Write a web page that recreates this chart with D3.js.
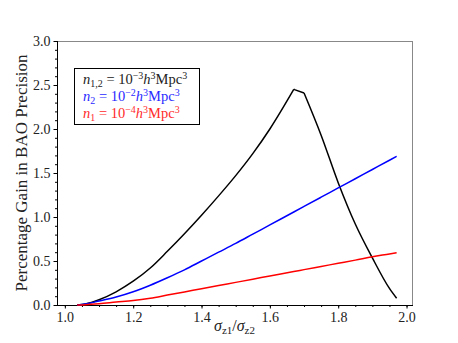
<!DOCTYPE html>
<html lang="en">
<head>
<meta charset="utf-8">
<title>BAO precision gain</title>
<script src="https://cdn.jsdelivr.net/npm/d3@7"></script>
<style>
body { margin: 0; background: white; }
svg text { font-family: "Liberation Serif", "Times New Roman", "DejaVu Serif", serif; }
</style>
</head>
<body>
<script>
// sigma_z1 / sigma_z2 sample points (shared by the three curves)
var ratio   = [1.036, 1.06, 1.10, 1.15, 1.20, 1.25, 1.30, 1.35, 1.40, 1.45, 1.50,
               1.55, 1.60, 1.67, 1.70, 1.75, 1.80, 1.85, 1.90, 1.95, 1.971];
// percentage gain in BAO precision
var gainN12 = [0.0, 0.012, 0.06, 0.15, 0.27, 0.42, 0.61, 0.81, 1.02, 1.24, 1.47,
               1.72, 2.0, 2.45, 2.41, 1.93, 1.39, 0.92, 0.535, 0.188, 0.076];
var gainN2  = [0.0, 0.012, 0.045, 0.09, 0.15, 0.225, 0.31, 0.40, 0.50, 0.60, 0.70,
               0.805, 0.91, 1.057, 1.12, 1.225, 1.33, 1.435, 1.54, 1.645, 1.69];
var gainN1  = [0.0, 0.004, 0.015, 0.033, 0.05, 0.077, 0.113, 0.149, 0.185, 0.221, 0.257,
               0.293, 0.33, 0.38, 0.402, 0.438, 0.474, 0.51, 0.548, 0.58, 0.594];
var peakIndex = 13; // black curve has a kink between 1.67 and 1.70
var xTicks = [1.0, 1.2, 1.4, 1.6, 1.8, 2.0];
var yTicks = [0.0, 0.5, 1.0, 1.5, 2.0, 2.5, 3.0];

var w = 458, h = 343;
var pad = { left: 57, right: 46, top: 41, bottom: 38 };
var serif = "Liberation Serif, Times New Roman, DejaVu Serif, serif";

var svg = d3.select("body").append("svg")
            .attr("width", w)
            .attr("height", h);

var xScale = d3.scaleLinear()
               .domain([0.977, 2.016])
               .range([pad.left, w - pad.right]);
var yScale = d3.scaleLinear()
               .domain([0, 3])
               .range([h - pad.bottom, pad.top]);

// minor ticks
var xMinor = d3.range(0.95, 2.0001, 0.05).filter(function(v) { return v > 0.977 && v < 2.016; });
var yMinor = d3.range(0, 3.0001, 0.1);

svg.append("g")
   .attr("transform", "translate(0," + (h - pad.bottom) + ")")
   .call(d3.axisBottom(xScale).tickValues(xMinor).tickSize(2).tickFormat(""))
   .call(function(g) { g.select(".domain").remove(); });
svg.append("g")
   .attr("transform", "translate(" + pad.left + ",0)")
   .call(d3.axisLeft(yScale).tickValues(yMinor).tickSize(2).tickFormat(""))
   .call(function(g) { g.select(".domain").remove(); });

var xAxis = svg.append("g")
   .attr("transform", "translate(0," + (h - pad.bottom) + ")")
   .call(d3.axisBottom(xScale).tickValues(xTicks).tickSize(3.5).tickPadding(4)
           .tickFormat(d3.format(".1f")));
xAxis.select(".domain").remove();
var yAxis = svg.append("g")
   .attr("transform", "translate(" + pad.left + ",0)")
   .call(d3.axisLeft(yScale).tickValues(yTicks).tickSize(3.5).tickPadding(3)
           .tickFormat(d3.format(".1f")));
yAxis.select(".domain").remove();
svg.selectAll("g").attr("font-family", serif);
svg.selectAll(".tick text")
   .attr("font-size", "14px")
   .attr("fill", "#222");

// spines
var x0 = pad.left, x1 = w - pad.right, y0 = pad.top, y1 = h - pad.bottom;
svg.append("line").attr("x1", x0).attr("x2", x1).attr("y1", y0 + 0.5).attr("y2", y0 + 0.5)
   .attr("stroke", "#888").attr("stroke-width", 1);
svg.append("line").attr("x1", x1 + 0.5).attr("x2", x1 + 0.5).attr("y1", y0).attr("y2", y1)
   .attr("stroke", "#888").attr("stroke-width", 1);
svg.append("line").attr("x1", x0 + 0.5).attr("x2", x0 + 0.5).attr("y1", y0).attr("y2", y1)
   .attr("stroke", "black").attr("stroke-width", 1);
svg.append("line").attr("x1", x0).attr("x2", x1 + 1).attr("y1", y1 + 0.5).attr("y2", y1 + 0.5)
   .attr("stroke", "black").attr("stroke-width", 1);

// curves: smooth pieces, the black one keeps its kink at the peak
var smooth = d3.line()
               .x(function(d) { return xScale(d[0]); })
               .y(function(d) { return yScale(d[1]); })
               .curve(d3.curveMonotoneX);
var straight = d3.line()
                 .x(function(d) { return xScale(d[0]); })
                 .y(function(d) { return yScale(d[1]); });
var ptsN12 = d3.zip(ratio, gainN12);
var series = [
  { pieces: [ptsN12.slice(0, peakIndex + 1), ptsN12.slice(peakIndex, peakIndex + 2), ptsN12.slice(peakIndex + 1)],
    kinds: ["s", "l", "s"], color: "black" },
  { pieces: [d3.zip(ratio, gainN2)], kinds: ["s"], color: "blue" },
  { pieces: [d3.zip(ratio, gainN1)], kinds: ["s"], color: "red" }
];
series.forEach(function(s) {
  var d = s.pieces.map(function(p, i) {
    var path = s.kinds[i] === "s" ? smooth(p) : straight(p);
    return i === 0 ? path : path.replace(/^M[^LC]*/, "L" + xScale(p[0][0]) + "," + yScale(p[0][1]));
  }).join("");
  svg.append("path")
     .attr("d", d)
     .attr("fill", "none")
     .attr("stroke", s.color)
     .attr("stroke-width", 1.5)
     .attr("stroke-linejoin", "miter");
});

// rich text helper: parts are [text, kind] with kind "", "i", "sub", "sup"
function richText(sel, parts, small) {
  var shift = 0;
  parts.forEach(function(p) {
    var target = p[1] === "sub" ? 3 : p[1] === "sup" ? -5 : 0;
    var t = sel.append("tspan").text(p[0]).attr("dy", target - shift);
    shift = target;
    if (p[1] === "i") t.attr("font-style", "italic");
    if (p[1] === "sub" || p[1] === "sup") t.attr("font-size", small);
  });
}

// legend
var legendItems = [
  { color: "#222", parts: [["n", "i"], ["1,2", "sub"], [" = 10", ""], ["\u22123", "sup"], ["h", "i"], ["3", "sup"], ["Mpc", ""], ["3", "sup"]] },
  { color: "#2a2aff", parts: [["n", "i"], ["2", "sub"], [" = 10", ""], ["\u22122", "sup"], ["h", "i"], ["3", "sup"], ["Mpc", ""], ["3", "sup"]] },
  { color: "#ff2a2a", parts: [["n", "i"], ["1", "sub"], [" = 10", ""], ["\u22124", "sup"], ["h", "i"], ["3", "sup"], ["Mpc", ""], ["3", "sup"]] }
];
var legend = svg.append("g").attr("font-family", serif);
legend.append("rect")
      .attr("x", 74.5).attr("y", 68.5)
      .attr("width", 125).attr("height", 56)
      .attr("fill", "white").attr("stroke", "black").attr("stroke-width", 1);
legendItems.forEach(function(item, i) {
  var t = legend.append("text")
                .attr("x", 83)
                .attr("y", 84 + i * 17)
                .attr("font-size", "14.5px")
                .attr("fill", item.color);
  richText(t, item.parts, "10px");
});

// axis labels
var xl = svg.append("text")
            .attr("x", (x0 + x1) / 2)
            .attr("y", 331)
            .attr("text-anchor", "middle")
            .attr("font-family", serif)
            .attr("font-size", "16px")
            .attr("fill", "#222");
richText(xl, [["\u03c3", "i"], ["z1", "sub"], ["/", ""], ["\u03c3", "i"], ["z2", "sub"]], "11px");

svg.append("text")
   .attr("transform", "translate(27," + ((y0 + y1) / 2) + ") rotate(-90)")
   .attr("text-anchor", "middle")
   .attr("font-family", serif)
   .attr("font-size", "17px")
   .attr("fill", "#222")
   .text("Percentage Gain in BAO Precision");
</script>
</body>
</html>
